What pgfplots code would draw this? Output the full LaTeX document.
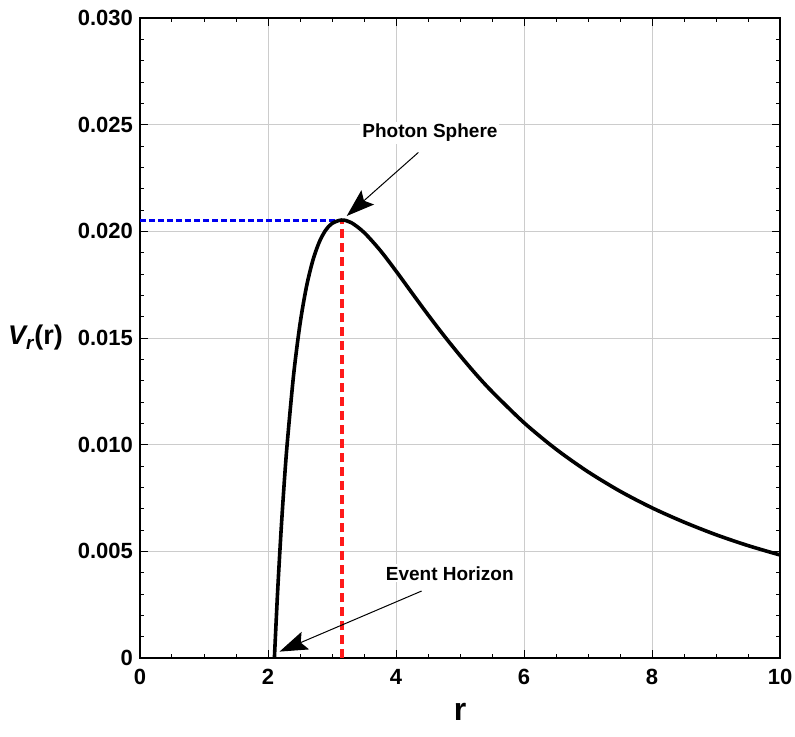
\documentclass[border=0pt]{standalone}
\usepackage{fontspec}
\setmainfont{Liberation Sans}
\usepackage{pgfplots}
\pgfplotsset{compat=1.18}
\usetikzlibrary{arrows.meta}
\definecolor{gridgray}{gray}{0.8}
\definecolor{vblue}{HTML}{0000F0}
\definecolor{vred}{HTML}{FF1A1A}

\begin{document}
\begin{tikzpicture}
\useasboundingbox (-70pt,-39pt) rectangle (327.5pt,329pt);
\begin{axis}[
  scale only axis, width=320pt, height=320pt,
  at={(0,0)}, anchor=south west,
  xmin=0, xmax=10, ymin=0, ymax=0.03,
  xtick={0,2,4,6,8,10},
  ytick={0,0.005,0.010,0.015,0.020,0.025,0.030},
  yticklabels={0,0.005,0.010,0.015,0.020,0.025,0.030},
  minor x tick num=3, minor y tick num=4,
  tick align=inside, major tick length=4pt, minor tick length=2pt,
  tick style={black, line width=0.5pt},
  axis line style={line width=0.6pt},
  grid=major, major grid style={gridgray, line width=0.5pt},
  scaled y ticks=false,
  ticklabel style={font=\fontsize{11}{13}\selectfont\bfseries},
  xticklabel style={yshift=-2pt},
  /pgf/number format/assume math mode=true,
  xlabel={r},
  every axis x label/.style={at={(axis description cs:0.5,0)}, anchor=north, yshift=-19pt,
    font=\fontsize{16}{18}\selectfont\bfseries},
  ylabel={{\itshape V\textsubscript{r}}(r)},
  every axis y label/.style={at={(axis description cs:0,0.5)}, anchor=east, xshift=-35pt,
    font=\fontsize{13.5}{15}\selectfont\bfseries},
  clip=true,
]
% horizontal and vertical guides at the photon sphere
\addplot[vblue, line width=1.7pt, dash pattern=on 3pt off 1.5pt] coordinates {(0,0.0205) (3.16,0.0205)};
\addplot[vred, line width=1.8pt, dash pattern=on 4.5pt off 2.5pt] coordinates {(3.16,0) (3.16,0.0205)};
% effective potential
\addplot[black, line width=1.8pt, smooth, tension=0.5] coordinates {
  (2.1,0) (2.15,0.00309) (2.2,0.00575) (2.25,0.00806) (2.3,0.01005)
  (2.4,0.01327) (2.5,0.01565) (2.6,0.01739) (2.7,0.01863) (2.8,0.01949)
  (2.9,0.02005) (3.0,0.02037) (3.15,0.02053) (3.3,0.02041) (3.5,0.01995)
  (3.75,0.01912) (4.0,0.01814) (4.25,0.01711) (4.5,0.01609) (4.75,0.01511)
  (5.0,0.01418) (5.25,0.01330) (5.5,0.01249) (6.0,0.01103) (6.5,0.00979)
  (7.0,0.00873) (7.5,0.00782) (8.0,0.00704) (8.5,0.00637) (9.0,0.00578)
  (9.5,0.00527) (10,0.00483)
};
\node[fill=white, inner sep=1pt, font=\fontsize{9.5}{11}\selectfont\bfseries] at (axis cs:4.53,0.02461) {Photon Sphere};
\draw[-{Stealth[length=14pt,width=9.5pt,inset=2.5pt]}, line width=0.5pt] (axis cs:4.35,0.0237) -- (axis cs:3.23,0.02072);
\node[fill=white, inner sep=1pt, font=\fontsize{9.5}{11}\selectfont\bfseries] at (axis cs:4.84,0.00397) {Event Horizon};
\draw[-{Stealth[length=14pt,width=9.5pt,inset=2.5pt]}, line width=0.5pt] (axis cs:4.40,0.00314) -- (axis cs:2.18,0.0003);
\end{axis}
\end{tikzpicture}
\end{document}
